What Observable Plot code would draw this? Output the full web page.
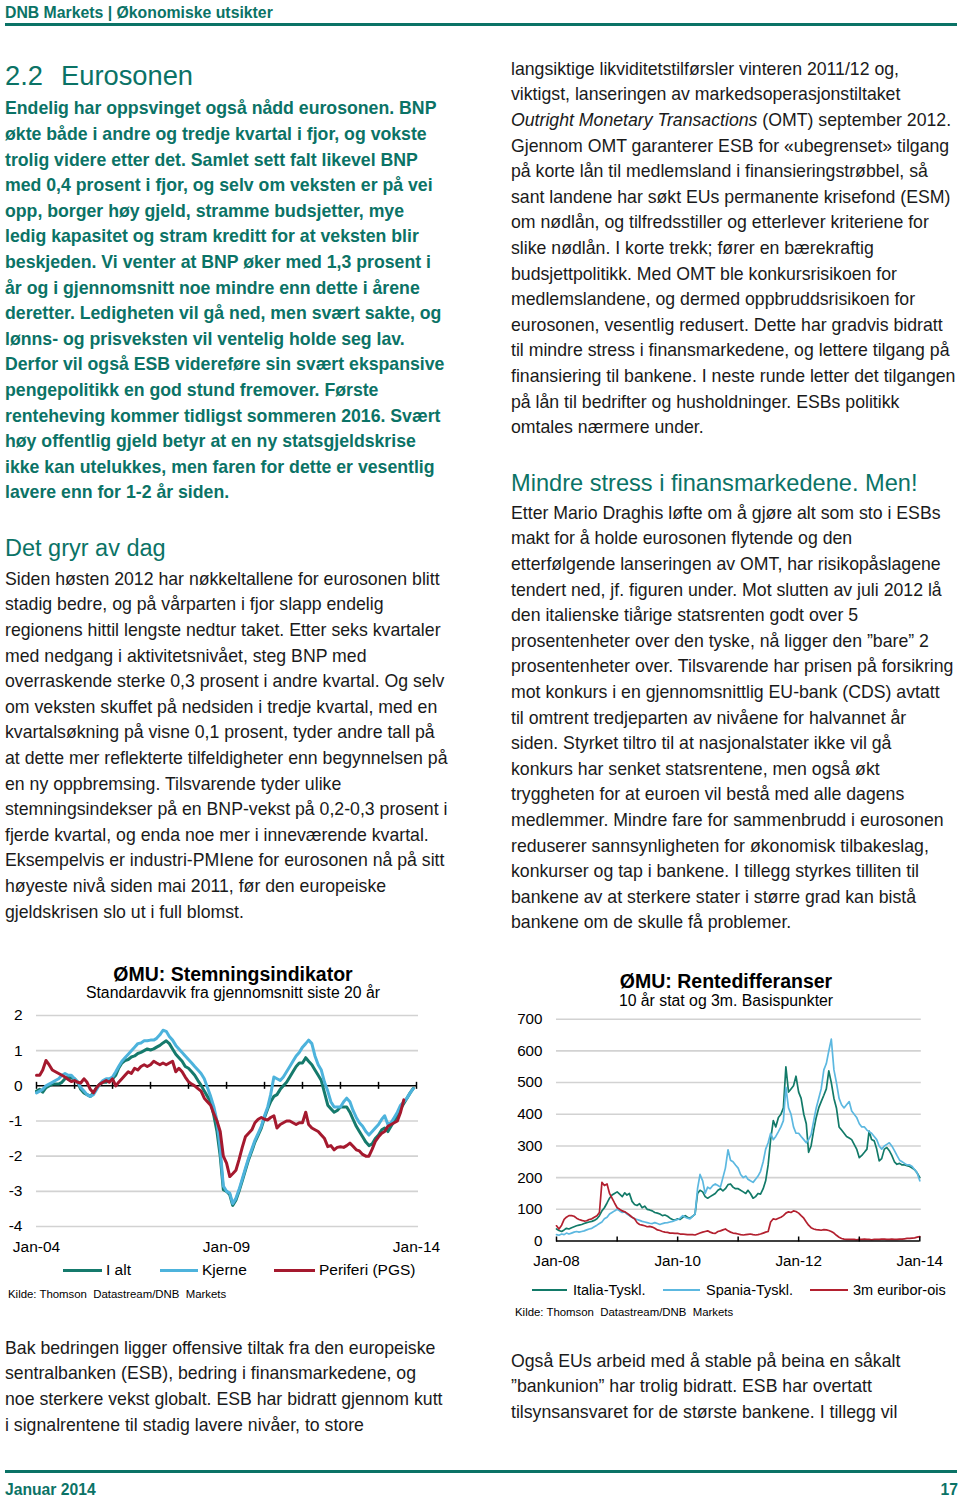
<!DOCTYPE html>
<html>
<head>
<meta charset="utf-8">
<script src="https://cdn.jsdelivr.net/npm/d3@7"></script>
<script src="https://cdn.jsdelivr.net/npm/@observablehq/plot@0.6"></script>
<style>
  html, body { margin: 0; padding: 0; background: #fff; }
  body { font-family: "Liberation Sans", Arial, sans-serif; }
  #page { position: relative; width: 960px; height: 1500px; overflow: hidden; background: #fff; }
  .abs { position: absolute; white-space: nowrap; }
  .teal { color: #0b7366; }
  .txt { font-size: 17.7px; line-height: 25.6px; color: #1a1a1a; }
  .btxt { font-size: 17.7px; line-height: 25.6px; font-weight: bold; color: #0b7366; }
  .one { line-height: 1; }
  .rule { position: absolute; background: #0b7366; }
  .ctitle { font-size: 19.5px; font-weight: bold; color: #000; text-align: center; width: 440px; line-height: 1; }
  .csub { font-size: 15.8px; color: #000; text-align: center; width: 440px; line-height: 1; }
  .leg { font-size: 15.5px; color: #000; line-height: 1; }
  .leg2 { font-size: 14.5px; color: #000; line-height: 1; }
  .seg { position: absolute; }
  .src { font-size: 11.4px; color: #000; line-height: 1; white-space: pre; }
  .chart { position: absolute; }
</style>
</head>
<body>
<div id="page">
  <!-- header -->
  <div class="abs one teal" style="left:5px;top:4.5px;font-size:15.8px;font-weight:bold;">DNB Markets | Økonomiske utsikter</div>
  <div class="rule" style="left:5px;top:23px;width:952px;height:2.5px;"></div>

  <div class="abs one teal" style="left:5px;top:61.5px;font-size:27.3px;">2.2</div>
  <div class="abs one teal" style="left:61px;top:61.5px;font-size:27.3px;">Eurosonen</div>

  <div class="abs btxt" style="left:5px;top:96.4px;">Endelig har oppsvinget også nådd eurosonen. BNP<br>økte både i andre og tredje kvartal i fjor, og vokste<br>trolig videre etter det. Samlet sett falt likevel BNP<br>med 0,4 prosent i fjor, og selv om veksten er på vei<br>opp, borger høy gjeld, stramme budsjetter, mye<br>ledig kapasitet og stram kreditt for at veksten blir<br>beskjeden. Vi venter at BNP øker med 1,3 prosent i<br>år og i gjennomsnitt noe mindre enn dette i årene<br>deretter. Ledigheten vil gå ned, men svært sakte, og<br>lønns- og prisveksten vil ventelig holde seg lav.<br>Derfor vil også ESB videreføre sin svært ekspansive<br>pengepolitikk en god stund fremover. Første<br>renteheving kommer tidligst sommeren 2016. Svært<br>høy offentlig gjeld betyr at en ny statsgjeldskrise<br>ikke kan utelukkes, men faren for dette er vesentlig<br>lavere enn for 1-2 år siden.</div>

  <div class="abs one teal" style="left:5px;top:536.5px;font-size:23.5px;">Det gryr av dag</div>

  <div class="abs txt" style="left:5px;top:566.9px;">Siden høsten 2012 har nøkkeltallene for eurosonen blitt<br>stadig bedre, og på vårparten i fjor slapp endelig<br>regionens hittil lengste nedtur taket. Etter seks kvartaler<br>med nedgang i aktivitetsnivået, steg BNP med<br>overraskende sterke 0,3 prosent i andre kvartal. Og selv<br>om veksten skuffet på nedsiden i tredje kvartal, med en<br>kvartalsøkning på visne 0,1 prosent, tyder andre tall på<br>at dette mer reflekterte tilfeldigheter enn begynnelsen på<br>en ny oppbremsing. Tilsvarende tyder ulike<br>stemningsindekser på en BNP-vekst på 0,2-0,3 prosent i<br>fjerde kvartal, og enda noe mer i inneværende kvartal.<br>Eksempelvis er industri-PMIene for eurosonen nå på sitt<br>høyeste nivå siden mai 2011, før den europeiske<br>gjeldskrisen slo ut i full blomst.</div>

  <div class="abs txt" style="left:511px;top:56.9px;">langsiktige likviditetstilførsler vinteren 2011/12 og,<br>viktigst, lanseringen av markedsoperasjonstiltaket<br><i>Outright Monetary Transactions</i> (OMT) september 2012.<br>Gjennom OMT garanterer ESB for «ubegrenset» tilgang<br>på korte lån til medlemsland i finansieringstrøbbel, så<br>sant landene har søkt EUs permanente krisefond (ESM)<br>om nødlån, og tilfredsstiller og etterlever kriteriene for<br>slike nødlån. I korte trekk; fører en bærekraftig<br>budsjettpolitikk. Med OMT ble konkursrisikoen for<br>medlemslandene, og dermed oppbruddsrisikoen for<br>eurosonen, vesentlig redusert. Dette har gradvis bidratt<br>til mindre stress i finansmarkedene, og lettere tilgang på<br>finansiering til bankene. I neste runde letter det tilgangen<br>på lån til bedrifter og husholdninger. ESBs politikk<br>omtales nærmere under.</div>

  <div class="abs one teal" style="left:511px;top:471.5px;font-size:23.6px;">Mindre stress i finansmarkedene. Men!</div>

  <div class="abs txt" style="left:511px;top:500.9px;">Etter Mario Draghis løfte om å gjøre alt som sto i ESBs<br>makt for å holde eurosonen flytende og den<br>etterfølgende lanseringen av OMT, har risikopåslagene<br>tendert ned, jf. figuren under. Mot slutten av juli 2012 lå<br>den italienske tiårige statsrenten godt over 5<br>prosentenheter over den tyske, nå ligger den ”bare” 2<br>prosentenheter over. Tilsvarende har prisen på forsikring<br>mot konkurs i en gjennomsnittlig EU-bank (CDS) avtatt<br>til omtrent tredjeparten av nivåene for halvannet år<br>siden. Styrket tiltro til at nasjonalstater ikke vil gå<br>konkurs har senket statsrentene, men også økt<br>tryggheten for at euroen vil bestå med alle dagens<br>medlemmer. Mindre fare for sammenbrudd i eurosonen<br>reduserer sannsynligheten for økonomisk tilbakeslag,<br>konkurser og tap i bankene. I tillegg styrkes tilliten til<br>bankene av at sterkere stater i større grad kan bistå<br>bankene om de skulle få problemer.</div>

  <!-- chart 1 titles -->
  <div class="abs ctitle" style="left:13px;top:965px;">ØMU: Stemningsindikator</div>
  <div class="abs csub" style="left:13px;top:985px;">Standardavvik fra gjennomsnitt siste 20 år</div>
  <div id="c1" class="chart" style="left:0px;top:1000px;"></div>
  <div class="seg" style="left:63px;top:1268.5px;width:39px;height:3px;background:#157a6c;"></div>
  <div class="abs leg" style="left:106px;top:1262px;">I alt</div>
  <div class="seg" style="left:160px;top:1268.5px;width:38px;height:3px;background:#4db3dc;"></div>
  <div class="abs leg" style="left:202px;top:1262px;">Kjerne</div>
  <div class="seg" style="left:274px;top:1268.5px;width:41px;height:3px;background:#a5192e;"></div>
  <div class="abs leg" style="left:319px;top:1262px;">Periferi (PGS)</div>
  <div class="abs src" style="left:8px;top:1289px;">Kilde: Thomson  Datastream/DNB  Markets</div>

  <!-- chart 2 titles -->
  <div class="abs ctitle" style="left:506px;top:971.5px;">ØMU: Rentedifferanser</div>
  <div class="abs csub" style="left:506px;top:992.5px;">10 år stat og 3m. Basispunkter</div>
  <div id="c2" class="chart" style="left:500px;top:1005px;"></div>
  <div class="seg" style="left:532px;top:1289px;width:35px;height:2px;background:#127a68;"></div>
  <div class="abs leg2" style="left:573px;top:1282.5px;">Italia-Tyskl.</div>
  <div class="seg" style="left:663px;top:1289px;width:37px;height:2px;background:#5cb8e0;"></div>
  <div class="abs leg2" style="left:706px;top:1282.5px;">Spania-Tyskl.</div>
  <div class="seg" style="left:810px;top:1289px;width:38px;height:2px;background:#b3202f;"></div>
  <div class="abs leg2" style="left:853px;top:1282.5px;">3m euribor-ois</div>
  <div class="abs src" style="left:515px;top:1306.5px;">Kilde: Thomson  Datastream/DNB  Markets</div>

  <div class="abs txt" style="left:5px;top:1335.9px;">Bak bedringen ligger offensive tiltak fra den europeiske<br>sentralbanken (ESB), bedring i finansmarkedene, og<br>noe sterkere vekst globalt. ESB har bidratt gjennom kutt<br>i signalrentene til stadig lavere nivåer, to store</div>

  <div class="abs txt" style="left:511px;top:1348.9px;">Også EUs arbeid med å stable på beina en såkalt<br>”bankunion” har trolig bidratt. ESB har overtatt<br>tilsynsansvaret for de største bankene. I tillegg vil</div>

  <!-- footer -->
  <div class="rule" style="left:5px;top:1469.5px;width:952px;height:3px;"></div>
  <div class="abs one teal" style="left:5px;top:1482px;font-size:15.7px;font-weight:bold;">Januar 2014</div>
  <div class="abs one teal" style="left:920px;top:1482px;width:38px;text-align:right;font-size:15.7px;font-weight:bold;">17</div>
</div>

<script>
// ---------- Chart 1: ØMU Stemningsindikator (monthly, from Jan 2004) ----------
const c1Start = [2004, 0];
const iAlt = [
  -0.15,-0.1,-0.18,-0.05,0.0,0.05,0.05,0.05,0.1,0.2,0.25,0.22,
  0.2,0.1,-0.1,-0.2,-0.25,-0.3,-0.2,-0.05,0.05,0.1,0.1,0.15,
  0.2,0.3,0.5,0.65,0.72,0.75,0.82,0.85,0.92,0.95,1.0,1.05,
  1.02,1.05,1.1,1.15,1.22,1.28,1.2,1.05,0.9,0.8,0.7,0.55,
  0.5,0.4,0.3,0.15,0.02,-0.15,-0.3,-0.45,-0.85,-1.3,-2.0,-2.95,
  -3.0,-3.1,-3.4,-3.25,-3.0,-2.7,-2.4,-2.1,-1.85,-1.6,-1.4,-1.2,
  -0.9,-0.65,-0.45,-0.3,-0.25,-0.1,0.0,0.1,0.25,0.4,0.55,0.65,
  0.65,0.8,0.7,0.6,0.45,0.3,0.15,-0.2,-0.55,-0.65,-0.75,-0.7,
  -0.6,-0.6,-0.6,-0.75,-0.95,-1.15,-1.3,-1.45,-1.6,-1.7,-1.65,-1.5,
  -1.4,-1.25,-1.2,-1.3,-1.15,-1.0,-0.85,-0.65,-0.5,-0.35,-0.2,-0.07
];
const kjerne = [
  -0.2,-0.15,-0.1,0.0,0.05,0.1,0.15,0.2,0.3,0.35,0.3,0.3,
  0.2,0.1,-0.05,-0.15,-0.25,-0.3,-0.25,-0.1,0.05,0.15,0.2,0.2,
  0.25,0.4,0.55,0.7,0.8,0.9,1.0,1.1,1.2,1.22,1.28,1.28,
  1.3,1.3,1.35,1.45,1.58,1.55,1.4,1.3,1.15,1.05,0.95,0.85,
  0.75,0.65,0.55,0.45,0.35,0.2,-0.05,-0.3,-0.6,-1.0,-1.8,-2.85,
  -3.0,-3.05,-3.35,-3.2,-2.95,-2.65,-2.35,-2.05,-1.8,-1.55,-1.35,-1.15,
  -0.85,-0.6,-0.25,0.25,0.2,0.15,0.25,0.4,0.55,0.7,0.85,0.95,
  1.1,1.2,1.3,1.2,0.85,0.6,0.45,0.1,-0.15,-0.45,-0.6,-0.6,
  -0.6,-0.45,-0.35,-0.45,-0.7,-0.9,-1.05,-1.15,-1.3,-1.4,-1.3,-1.2,
  -1.1,-0.95,-0.85,-1.1,-1.05,-0.9,-0.75,-0.55,-0.45,-0.35,-0.2,-0.08
];
const periferi = [
  0.3,0.3,0.45,0.72,0.6,0.45,0.4,0.35,0.3,0.25,0.18,0.12,
  0.15,0.1,0.08,0.2,0.1,-0.1,-0.2,-0.05,0.05,0.1,0.15,0.1,
  0.2,0.0,0.1,0.2,0.3,0.4,0.35,0.5,0.45,0.55,0.6,0.55,
  0.6,0.7,0.65,0.6,0.65,0.6,0.65,0.7,0.4,0.5,0.4,0.25,
  0.12,0.05,0.0,-0.08,-0.15,-0.35,-0.45,-0.55,-0.8,-1.0,-1.3,-2.0,
  -2.2,-2.58,-2.5,-2.4,-2.1,-1.75,-1.45,-1.35,-1.25,-1.05,-0.95,-0.9,
  -0.95,-0.97,-0.9,-0.85,-1.2,-1.1,-1.05,-1.0,-1.0,-1.05,-1.1,-1.05,
  -1.05,-0.75,-1.1,-1.2,-1.25,-1.3,-1.4,-1.5,-1.73,-1.7,-1.82,-1.75,
  -1.73,-1.75,-1.7,-1.63,-1.72,-1.82,-1.85,-1.95,-2.0,-2.0,-1.8,-1.58,
  -1.45,-1.35,-1.3,-1.15,-1.1,-1.05,-1.0,-0.75,-0.4
];
const c1YTicks = [2, 1, 0, -1, -2, -3, -4];
const c1Grid = [2, 1, -1, -2, -3, -4];
const c1XTickYears = [2004, 2009, 2014];
const c1XTickLabels = ["Jan-04", "Jan-09", "Jan-14"];
const c1YearMarks = [2004, 2005, 2006, 2007, 2008, 2009, 2010, 2011, 2012, 2013, 2014];
const c1Colors = {ialt: "#157a6c", kjerne: "#4db3dc", periferi: "#a5192e"};

// ---------- Chart 2: ØMU Rentedifferanser (semi-monthly, from Jan 2008) ----------
const c2Start = [2008, 0];
const italia = [
  38,33,30,35,40,38,42,45,48,50,52,55,58,60,62,65,70,80,95,105,120,135,145,150,
  155,148,140,152,145,150,125,115,112,118,105,110,100,98,95,90,88,85,80,82,78,72,68,66,
  70,68,75,80,75,72,78,85,150,160,155,140,135,140,145,150,160,165,158,165,178,180,170,165,
  165,160,155,150,160,150,135,140,150,148,165,190,240,320,380,360,390,400,420,550,470,480,490,520,
  470,450,400,370,280,300,350,390,420,440,460,480,537,500,450,420,360,350,340,330,325,320,305,290,
  263,270,280,290,347,320,316,290,253,260,290,295,285,270,250,242,245,240,240,238,235,230,225,215,
  200
];
const spania = [
  20,18,22,20,25,22,25,28,30,28,30,32,35,38,40,45,50,55,60,70,75,85,90,95,
  100,95,90,92,85,80,75,70,68,65,62,60,58,56,55,58,55,52,55,57,58,60,62,65,
  68,72,80,75,72,70,78,85,165,210,190,150,170,165,175,180,175,170,200,230,288,255,250,240,
  230,210,200,205,195,190,185,195,205,220,250,290,310,340,320,330,345,360,380,485,420,400,360,340,
  340,330,320,310,320,335,380,420,450,480,540,560,600,637,540,500,450,430,420,430,440,410,400,390,
  370,360,360,350,345,340,330,320,300,290,300,305,310,300,285,270,255,250,245,240,240,235,225,215,
  190
];
const euriborOis = [
  48,38,50,68,75,80,80,78,72,68,65,63,64,68,70,75,80,90,185,175,180,150,135,120,
  105,100,95,92,88,82,75,70,58,52,50,48,45,46,44,40,35,33,30,28,27,25,25,24,
  24,22,22,21,20,20,20,19,22,25,28,30,32,28,25,24,30,32,35,38,32,28,25,24,
  22,20,19,20,21,22,20,19,20,22,25,28,30,60,70,68,72,75,80,88,92,90,95,93,
  88,80,72,60,50,42,38,36,35,34,36,35,33,30,25,18,12,8,6,5,5,5,5,4,
  5,5,6,5,5,4,5,5,5,6,6,5,5,6,5,5,6,6,7,8,8,9,10,12,
  14
];
const c2YTicks = [700, 600, 500, 400, 300, 200, 100, 0];
const c2Grid = [700, 600, 500, 400, 300, 200, 100];
const c2XTickYears = [2008, 2010, 2012, 2014];
const c2XTickLabels = ["Jan-08", "Jan-10", "Jan-12", "Jan-14"];
const c2YearMarks = [2008, 2009, 2010, 2011, 2012, 2013, 2014];
const c2Colors = {italia: "#127a68", spania: "#5cb8e0", euribor: "#b3202f"};

const FONT = "'Liberation Sans', Arial, sans-serif";
const jan = y => new Date(Date.UTC(y, 0, 1));

// monthly rows
const monthly = (vals) => vals.map((v, m) => ({date: new Date(Date.UTC(c1Start[0], c1Start[1] + m, 1)), v}));
// semi-monthly rows (1st and 16th of each month)
const semi = (vals) => vals.map((v, i) => ({date: new Date(Date.UTC(c2Start[0], c2Start[1] + Math.floor(i / 2), i % 2 ? 16 : 1)), v}));

const c1TickDates = c1XTickYears.map(jan);
const p1 = Plot.plot({
  width: 445, height: 262,
  marginLeft: 36, marginRight: 29, marginTop: 15, marginBottom: 36,
  style: {fontFamily: FONT, fontSize: "15.5px", color: "#000", background: "transparent", overflow: "visible"},
  x: {type: "utc", domain: [jan(2004), jan(2014)], label: null},
  y: {domain: [-4, 2], label: null},
  marks: [
    Plot.ruleY(c1Grid, {stroke: "#d2d2d2", strokeWidth: 1.6, insetRight: -2}),
    Plot.ruleY([0], {stroke: "#000", strokeWidth: 1.5}),
    Plot.ruleX(c1YearMarks.map(jan), {x: d => d, y1: 0, y2: 0, insetTop: -3.5, insetBottom: -3.5, stroke: "#000", strokeWidth: 1.5}),
    Plot.line(monthly(iAlt), {x: "date", y: "v", stroke: c1Colors.ialt, strokeWidth: 3, strokeLinejoin: "round"}),
    Plot.line(monthly(kjerne), {x: "date", y: "v", stroke: c1Colors.kjerne, strokeWidth: 3, strokeLinejoin: "round"}),
    Plot.line(monthly(periferi), {x: "date", y: "v", stroke: c1Colors.periferi, strokeWidth: 3, strokeLinejoin: "round"}),
    Plot.axisY({ticks: c1YTicks, tickSize: 0, tickPadding: 14, label: null, tickFormat: d => String(d)}),
    Plot.axisX({ticks: c1TickDates, tickSize: 0, tickPadding: 14.5, label: null,
      tickFormat: d => c1XTickLabels[c1TickDates.findIndex(t => +t === +d)]})
  ]
});
document.getElementById("c1").appendChild(p1);

const c2TickDates = c2XTickYears.map(jan);
const p2 = Plot.plot({
  width: 460, height: 270,
  marginLeft: 56, marginRight: 40.7, marginTop: 13.7, marginBottom: 34.5,
  style: {fontFamily: FONT, fontSize: "15.2px", color: "#000", background: "transparent", overflow: "visible"},
  x: {type: "utc", domain: [jan(2008), jan(2014)], label: null},
  y: {domain: [0, 700], label: null},
  marks: [
    Plot.ruleY(c2Grid, {stroke: "#d2d2d2", strokeWidth: 1.6, insetRight: -1.5}),
    Plot.line(semi(italia), {x: "date", y: "v", stroke: c2Colors.italia, strokeWidth: 1.7}),
    Plot.line(semi(spania), {x: "date", y: "v", stroke: c2Colors.spania, strokeWidth: 1.7}),
    Plot.line(semi(euriborOis), {x: "date", y: "v", stroke: c2Colors.euribor, strokeWidth: 1.7}),
    Plot.ruleY([0], {stroke: "#000", strokeWidth: 1.5}),
    Plot.ruleX(c2YearMarks.map(jan), {x: d => d, y1: 0, y2: 0, insetTop: -4, insetBottom: -1, stroke: "#000", strokeWidth: 1.5}),
    Plot.axisY({ticks: c2YTicks, tickSize: 0, tickPadding: 14, label: null, tickFormat: d => String(d)}),
    Plot.axisX({ticks: c2TickDates, tickSize: 0, tickPadding: 14, label: null,
      tickFormat: d => c2XTickLabels[c2TickDates.findIndex(t => +t === +d)]})
  ]
});
document.getElementById("c2").appendChild(p2);
</script>
</body>
</html>
